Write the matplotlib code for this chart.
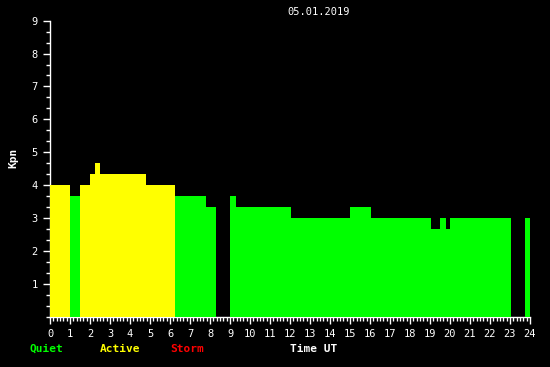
import matplotlib
matplotlib.use("Agg")
import matplotlib.pyplot as plt
import numpy as np
from matplotlib.ticker import MultipleLocator

# Kp segments (hours UT)
seg_start = [0.0, 1.0, 1.5, 2.0, 2.25, 2.5, 4.8, 6.25, 7.8, 9.0, 9.3, 12.05, 15.0, 16.05, 19.05, 19.5, 19.8, 20.0, 23.75]
seg_end   = [1.0, 1.5, 2.0, 2.25, 2.5, 4.8, 6.25, 7.8, 8.3, 9.3, 12.05, 15.0, 16.05, 19.05, 19.5, 19.8, 20.0, 23.05, 24.05]
kp_values = [4.0, 3.67, 4.0, 4.33, 4.67, 4.33, 4.0, 3.67, 3.33, 3.67, 3.33, 3.0, 3.33, 3.0, 2.67, 3.0, 2.67, 3.0, 3.0]

date_label = "05.01.2019"
x_ticks = list(range(0, 25))
y_ticks = list(range(1, 10))

QUIET = "#00ff00"
ACTIVE = "#ffff00"
STORM = "#ff0000"

def kp_color(v):
    if v >= 5:
        return STORM
    if v >= 4:
        return ACTIVE
    return QUIET

fig = plt.figure(figsize=(5.5, 3.67), dpi=100, facecolor="black")
ax = fig.add_axes([50/550, (367-316.6)/367, 480/550, (316.6-20.7)/367], facecolor="black")

widths = [e - s for s, e in zip(seg_start, seg_end)]
ax.bar(seg_start, kp_values, width=widths, align="edge",
       color=[kp_color(v) for v in kp_values], linewidth=0, zorder=3)

ax.set_xlim(0, 24)
ax.set_ylim(0, 9)
for side in ["top", "right"]:
    ax.spines[side].set_visible(False)
for side in ["left", "bottom"]:
    ax.spines[side].set_color("white")
    ax.spines[side].set_linewidth(1.0)
    ax.spines[side].set_zorder(2)

mono = "DejaVu Sans Mono"
ax.set_xticks(x_ticks)
ax.set_xticklabels([str(t) for t in x_ticks], fontfamily=mono, fontsize=7.5, color="white")
ax.set_yticks(y_ticks)
ax.set_yticklabels([str(t) for t in y_ticks], fontfamily=mono, fontsize=7.5, color="white")
ax.xaxis.set_minor_locator(MultipleLocator(1/6))
ax.yaxis.set_minor_locator(MultipleLocator(1/3))
ax.tick_params(axis="both", which="major", colors="white", length=5, width=1, direction="out")
ax.tick_params(axis="both", which="minor", colors="white", length=3, width=1, direction="out")
ax.tick_params(axis="x", which="major", pad=4)
ax.tick_params(axis="y", which="major", pad=4)

fig.text(13/550, 1 - 158/367, "Kpn", rotation=90, color="white", fontfamily=mono,
         fontweight="bold", fontsize=8, ha="center", va="center")
fig.text(319/550, 1 - 12/367, date_label, color="white", fontfamily=mono,
         fontsize=7.5, ha="center", va="center")

label_y = 1 - 349/367
fig.text(30/550, label_y, "Quiet", color=QUIET, fontfamily=mono, fontweight="bold",
         fontsize=8, ha="left", va="center")
fig.text(100/550, label_y, "Active", color=ACTIVE, fontfamily=mono, fontweight="bold",
         fontsize=8, ha="left", va="center")
fig.text(170/550, label_y, "Storm", color=STORM, fontfamily=mono, fontweight="bold",
         fontsize=8, ha="left", va="center")
fig.text(290/550, label_y, "Time UT", color="white", fontfamily=mono, fontweight="bold",
         fontsize=8, ha="left", va="center")

fig.savefig("out.png", dpi=100, facecolor="black")
